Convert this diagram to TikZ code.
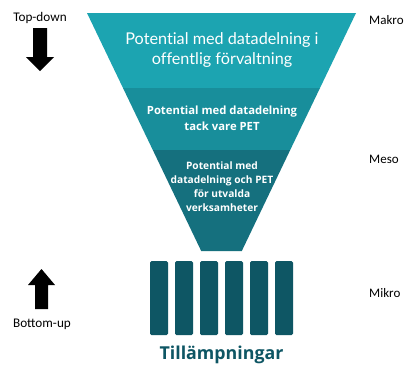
\documentclass[tikz,border=0pt]{standalone}
\usepackage{fontspec}
\setmainfont{Carlito}
\newfontfamily\funnelfont[Ligatures=NoCommon]{Lato}
\newfontfamily\boldfont{Open Sans}
\begin{document}
\begin{tikzpicture}[x=1pt,y=-1pt,
  bandtext/.style={text=white,align=center,inner sep=0pt},
  levellabel/.style={font=\fontsize{13}{15}\selectfont,anchor=west,inner sep=0pt},
  dirlabel/.style={font=\fontsize{13.2}{15}\selectfont,inner sep=0pt},
  bar/.style={fill=barteal,rounded corners=1.5pt},
  blockarrow/.style={fill=black}]
\definecolor{tealA}{RGB}{28,164,177}
\definecolor{tealB}{RGB}{24,142,155}
\definecolor{tealC}{RGB}{21,112,126}
\definecolor{barteal}{RGB}{14,86,100}
\useasboundingbox (0,0) rectangle (407,367);
\fill[white] (0,0) rectangle (407,367);

% funnel bands
\fill[tealA] (87,13) -- (356,13) -- (320,88) -- (123,88) -- cycle;
\fill[tealB] (123,88) -- (320,88) -- (290.2,150) -- (152.8,150) -- cycle;
\fill[tealC] (152.8,150) -- (290.2,150) -- (241.8,251) -- (201.2,251) -- cycle;

\node[bandtext,font=\funnelfont\fontsize{16.2}{20.5}\selectfont] (macro) at (222,50)
  {Potential med datadelning i\\offentlig förvaltning};
\node[bandtext,font=\boldfont\bfseries\fontsize{11.3}{16}\selectfont] (meso) at (222,118)
  {Potential med datadelning\\tack vare PET};
\node[bandtext,font=\boldfont\bfseries\fontsize{10.2}{14}\selectfont] (micro) at (222,187)
  {Potential med\\datadelning och PET\\för utvalda\\verksamheter};

% applications
\foreach \i in {0,...,5}
  \fill[bar] ({150+\i*25},261) rectangle ({168+\i*25},335);
\node[text=barteal,font=\boldfont\bfseries\fontsize{17.8}{20}\selectfont,inner sep=0pt]
  (apps) at (221.5,355) {Tillämpningar};

% level labels
\node[levellabel] (makro) at (369,20) {Makro};
\node[levellabel] (mesolbl) at (369,159) {Meso};
\node[levellabel] (mikro) at (369,293) {Mikro};

% direction arrows
\node[dirlabel] (topdown) at (40,18) {Top-down};
\fill[blockarrow] (33,28) -- (47,28) -- (47,57) -- (54,57) -- (40,71)
  -- (26,57) -- (33,57) -- cycle;
\node[dirlabel] (bottomup) at (42,324) {Bottom-up};
\fill[blockarrow] (35,309) -- (48,309) -- (48,285) -- (55,285) -- (41.5,269)
  -- (28,285) -- (35,285) -- cycle;
\end{tikzpicture}
\end{document}
